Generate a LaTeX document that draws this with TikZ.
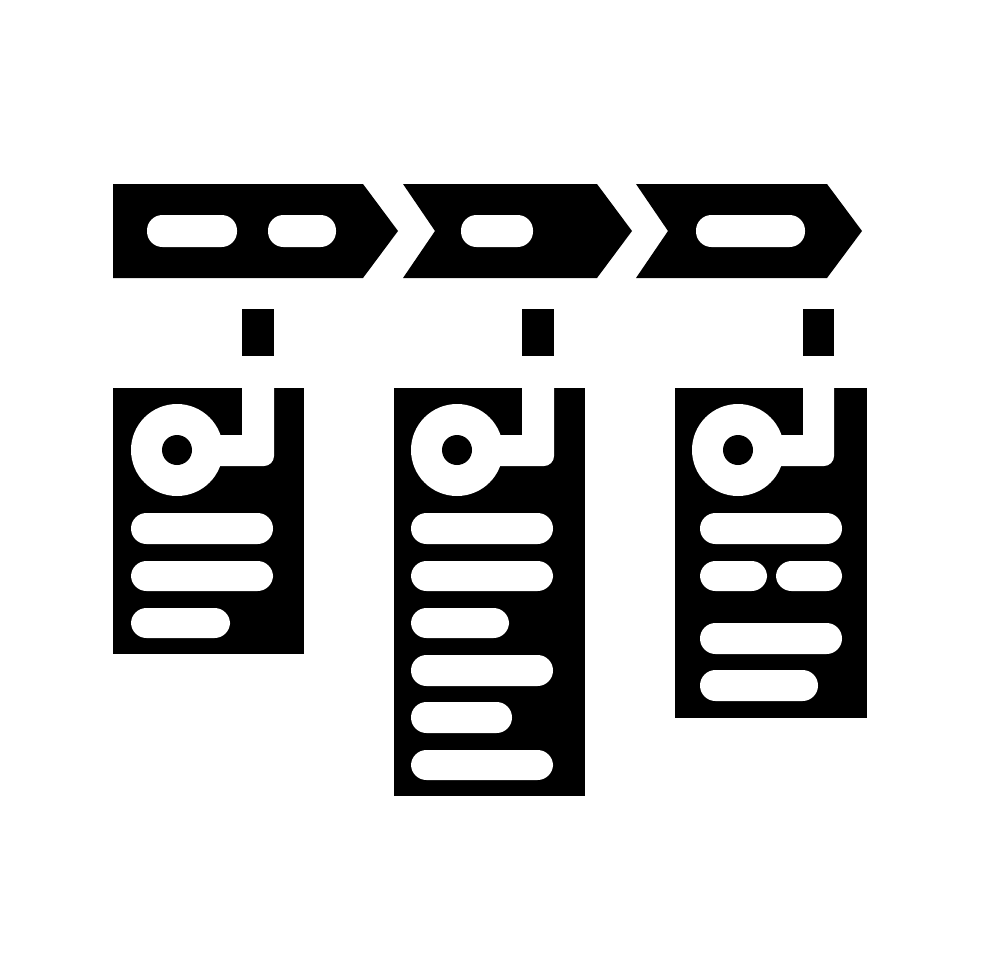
\documentclass[tikz,border=0pt]{standalone}
\begin{document}
\begin{tikzpicture}[x=1pt,y=-1pt]
\tikzset{pill/.style={fill=white,rounded corners=15.5pt},
  blk/.style={fill=black}}
\useasboundingbox (0,0) rectangle (980,980);
\fill[white] (0,0) rectangle (980,980);
% top arrows
\fill[blk] (113,184) -- (363,184) -- (398,231) -- (363,278) -- (113,278) -- cycle;
\fill[blk] (403,184) -- (597,184) -- (632,231) -- (597,278) -- (403,278) -- (435,231) -- cycle;
\fill[blk] (636,184) -- (827,184) -- (862,231) -- (827,278) -- (636,278) -- (668,231) -- cycle;
\fill[pill] (147,215) rectangle (237,247);
\fill[pill] (268,215) rectangle (336,247);
\fill[pill] (461,215) rectangle (533,247);
\fill[pill] (696,215) rectangle (805,247);
% connectors
\fill[blk] (242,309) rectangle (274,356);
\fill[blk] (522,309) rectangle (554,356);
\fill[blk] (803,309) rectangle (834,356);
% card 1
\fill[blk] (113,388) rectangle (304,654);
\fill[white] (177,450) circle (46);
\fill[white] (242,385) -- (242,435) -- (177,435) -- (177,466) [rounded corners=10pt] -- (274,466) [sharp corners] -- (274,385) -- cycle;
\fill[blk] (177,450) circle (15);
\fill[pill] (131,513) rectangle (273,544);
\fill[pill] (131,561) rectangle (273,591);
\fill[pill] (131,608) rectangle (230,638);
% card 2
\fill[blk] (394,388) rectangle (585,796);
\fill[white] (457,450) circle (46);
\fill[white] (522,385) -- (522,435) -- (457,435) -- (457,466) [rounded corners=10pt] -- (554,466) [sharp corners] -- (554,385) -- cycle;
\fill[blk] (457,450) circle (15);
\fill[pill] (411,513) rectangle (553,544);
\fill[pill] (411,561) rectangle (553,591);
\fill[pill] (411,608) rectangle (509,638);
\fill[pill] (411,655) rectangle (553,686);
\fill[pill] (411,702) rectangle (512,733);
\fill[pill] (411,750) rectangle (553,780);
% card 3
\fill[blk] (675,388) rectangle (867,718);
\fill[white] (738,450) circle (46);
\fill[white] (803,385) -- (803,435) -- (738,435) -- (738,466) [rounded corners=10pt] -- (834,466) [sharp corners] -- (834,385) -- cycle;
\fill[blk] (738,450) circle (15);
\fill[pill] (700,513) rectangle (842,544);
\fill[pill] (700,561) rectangle (767,591);
\fill[pill] (776,561) rectangle (842,591);
\fill[pill] (700,623) rectangle (842,654);
\fill[pill] (700,670) rectangle (818,701);
\end{tikzpicture}
\end{document}
